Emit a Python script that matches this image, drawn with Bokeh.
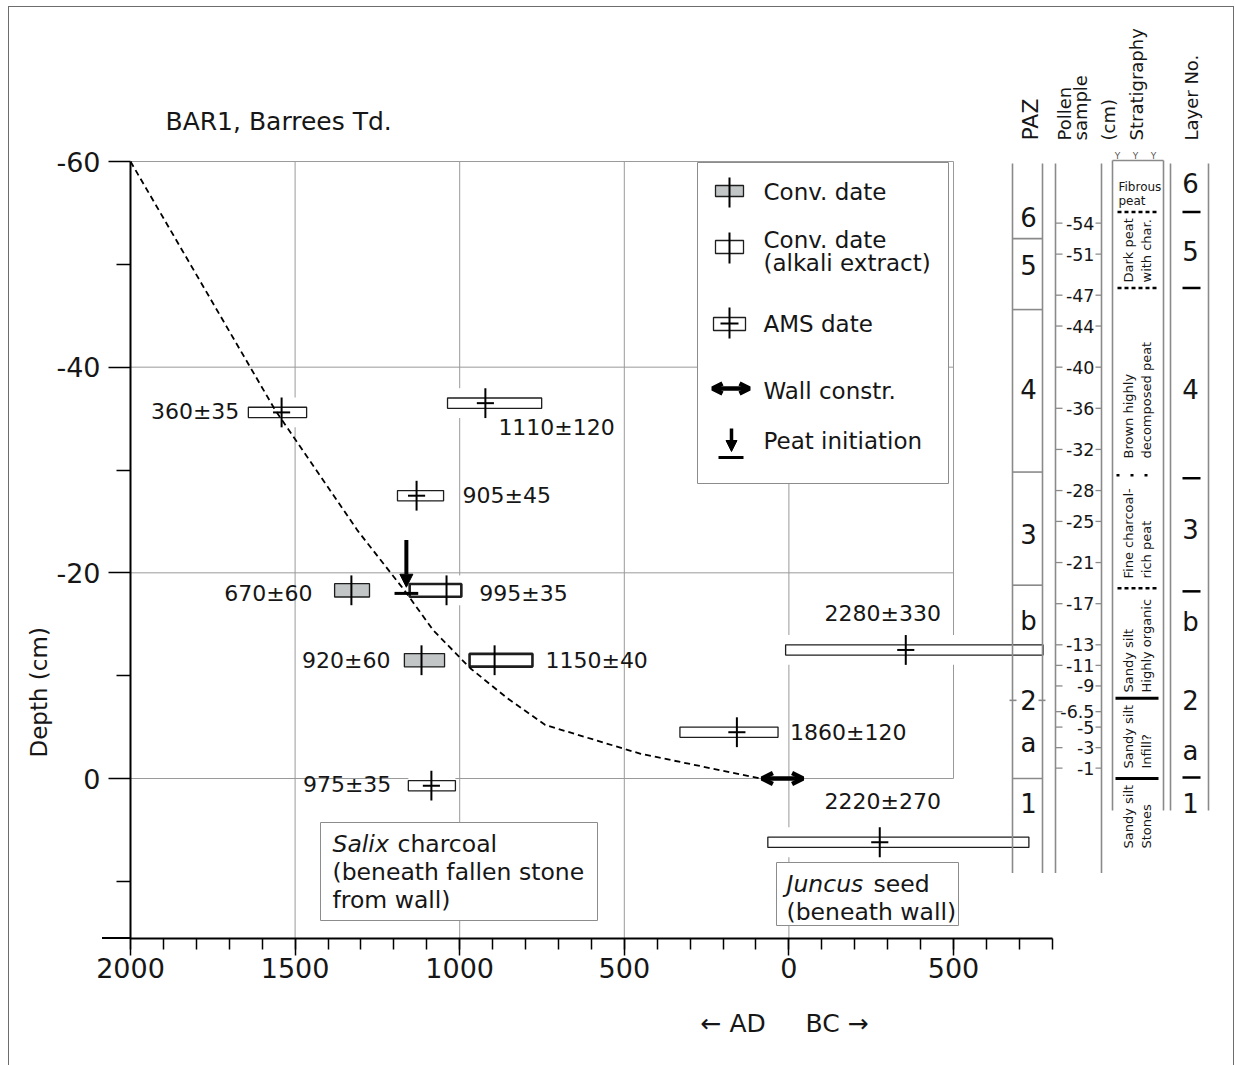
import numpy as np
from bokeh.plotting import figure
from bokeh.models import (Range1d, LinearAxis, FixedTicker, CustomJSTickFormatter,
                          Arrow, NormalHead, OpenHead, Title)
from bokeh.core.properties import value
from bokeh.embed import file_html
from bokeh.resources import INLINE

FONT = "DejaVu Sans"
INK = "#161616"
GRID = "#9a9a9a"
FRAMEC = "#8c8c8c"

# ---------------- data (years: AD positive, BC negative; depth in cm) ----------------
DATE_LABELS = ["360±35", "1110±120", "905±45", "670±60", "995±35", "920±60",
               "1150±40", "2280±330", "1860±120", "975±35", "2220±270"]
DATE_TYPES = ["ams", "ams", "ams", "conv", "alkali", "conv",
              "alkali", "ams", "ams", "ams", "ams"]
DATE_DEPTH = [-35.6, -36.5, -27.5, -18.3, -18.3, -11.5, -11.5, -12.5, -4.5, 0.7, 6.2]
CAL_START = [1642, 1037, 1189, 1380, 1152, 1168, 970, 10, 331, 1156, 64]
CAL_END = [1465, 751, 1049, 1274, 995, 1046, 779, -772, 33, 1013, -729]
CAL_MID = [1541, 922, 1131, 1329, 1040, 1116, 894, -355, 158, 1086, -276]

MODEL_YEAR = [2000, 1560, 1310, 1168, 1080, 967, 855, 740, 450, 86]
MODEL_DEPTH = [-60, -35.8, -24.1, -18.3, -14.4, -10.7, -7.8, -5.2, -2.4, 0]

WALL_FROM, WALL_TO, WALL_DEPTH = 82, -43, 0.0
PEAT_YEAR, PEAT_DEPTH = 1162, -18.0

X_MAJOR = [2000, 1500, 1000, 500, 0, -500]
X_TICK_LABELS = ["2000", "1500", "1000", "500", "0", "500"]
X_MINOR = list(range(-800, 2001, 100))
Y_MAJOR = [-60, -40, -20, 0]
Y_TICK_LABELS = ["-60", "-40", "-20", "0"]
Y_MINOR = [-50, -30, -10, 10]

PAZ_BOUNDS = [-52.5, -45.6, -29.8, -18.8, 0.0]
PAZ_LABELS = ["6", "5", "4", "3", "b", "2", "a", "1"]
PAZ_LABEL_DEPTH = [-54.6, -49.9, -37.9, -23.8, -15.3, -7.6, -3.5, 2.4]

POLLEN_DEPTH = [-54, -51, -47, -44, -40, -36, -32, -28, -25, -21, -17, -13, -11, -9, -6.5, -5, -3, -1]
POLLEN_LABELS = ["-54", "-51", "-47", "-44", "-40", "-36", "-32", "-28", "-25", "-21",
                 "-17", "-13", "-11", "-9", "-6.5", "-5", "-3", "-1"]

STRAT_BOUNDS = [-55.1, -47.7, -29.5, -18.5, -7.8, 0.0]
STRAT_STYLE = ["dashed", "dashed", "dotted", "dashed", "solid", "solid"]
STRAT_UNITS = [("Dark peat", "with char."), ("Brown highly", "decomposed peat"),
               ("Fine charcoal-", "rich peat"), ("Sandy silt", "Highly organic"),
               ("Sandy silt", "Infill?"), ("Sandy silt", "Stones")]

LAYER_BOUNDS = [-55.1, -47.7, -29.2, -18.2, -0.1]
LAYER_LABELS = ["6", "5", "4", "3", "b", "2", "a", "1"]
LAYER_LABEL_DEPTH = [-57.9, -51.3, -37.9, -24.3, -15.2, -7.6, -2.7, 2.4]

# label placement for each date (side, x offset px, y offset px)
LABEL_LAYOUT = [("left", -9, 0), ("below", 13, 25), ("right", 19, 1), ("left", -22, 4),
                ("right", 18, 4), ("left", -14, 1), ("right", 13, 1), ("above", -23, -35),
                ("right", 12, 1), ("left", -17, 0), ("above", 3, -40)]

# ---------------- geometry (page px == canvas px) ----------------
W, H = 1235, 1065
FL, FR, FT, FB = 130, 1235, 0, 938
PX_YR = 823 / 2500.0
PX_CM = 617 / 60.0
x_end = 2000 - (FR - FL) / PX_YR
y_top = (FT - 778) / PX_CM
y_bot = (FB - 778) / PX_CM

p = figure(width=W, height=H, output_backend="svg", toolbar_location=None,
           x_range=Range1d(2000, x_end), y_range=Range1d(y_bot, y_top),
           x_axis_type=None, y_axis_type=None,
           min_border_left=FL, min_border_right=0, min_border_top=0,
           min_border_bottom=H - FB)
p.extra_x_ranges = {"px": Range1d(FL, FR)}
p.extra_y_ranges = {"px": Range1d(FB, FT)}
p.outline_line_color = None
p.background_fill_alpha = 0
p.border_fill_alpha = 0
# thin page border and the short stub of the x axis left of the y axis (outside the frame)
p.styles = {
    "background": (
        "linear-gradient(#6d6d6d,#6d6d6d) 8px 6px / 1px 1200px no-repeat,"
        "linear-gradient(#6d6d6d,#6d6d6d) 8px 6px / 1226px 1px no-repeat,"
        "linear-gradient(#6d6d6d,#6d6d6d) 1233px 6px / 1px 1200px no-repeat,"
        "linear-gradient(#000,#000) 102px 937px / 29px 2px no-repeat"),
}

PX = dict(x_range_name="px", y_range_name="px")


def txt(xs, ys, texts, size, align="left", baseline="middle", angle=0.0, style="normal",
        color=INK):
    p.text(x=list(xs), y=list(ys), text=list(texts), angle=angle,
           text_font=value(FONT), text_font_size=value(f"{size}px"),
           text_font_style=style, text_align=align, text_baseline=baseline,
           text_color=color, **PX)


# ---------------- axes ----------------
FMT_CODE = """
    for (let i = 0; i < tv.length; i++) { if (Math.abs(tv[i] - tick) < 1e-6) return tl[i]; }
    return '';"""
xaxis = LinearAxis(ticker=FixedTicker(ticks=X_MAJOR, minor_ticks=X_MINOR),
                   formatter=CustomJSTickFormatter(args=dict(tv=X_MAJOR, tl=X_TICK_LABELS),
                                                   code=FMT_CODE),
                   bounds=(-800, 2000))
yaxis = LinearAxis(ticker=FixedTicker(ticks=Y_MAJOR, minor_ticks=Y_MINOR),
                   formatter=CustomJSTickFormatter(args=dict(tv=Y_MAJOR, tl=Y_TICK_LABELS),
                                                   code=FMT_CODE),
                   bounds=(-60, y_bot))
for ax, tout, mout, stand in ((xaxis, 17, 11, 2), (yaxis, 22, 14, 8)):
    ax.axis_line_width = 2
    ax.axis_line_color = "black"
    ax.major_tick_in = 0
    ax.major_tick_out = tout
    ax.minor_tick_in = 0
    ax.minor_tick_out = mout
    ax.major_tick_line_width = 1.5
    ax.minor_tick_line_width = 1.5
    ax.major_tick_line_color = "black"
    ax.minor_tick_line_color = "black"
    ax.major_label_text_font = FONT
    ax.major_label_text_font_size = "27px"
    ax.major_label_text_color = INK
    ax.major_label_standoff = stand
p.add_layout(xaxis, "below")
p.add_layout(yaxis, "left")
p.add_layout(Title(text="Depth (cm)", align="left", offset=181, text_font=FONT,
                   text_font_size="23px", text_font_style="normal", text_color=INK,
                   standoff=4), "left")
p.add_layout(Title(text="← AD\u00a0\u00a0\u00a0\u00a0\u00a0BC →", align="left", offset=570,
                   text_font=FONT, text_font_size="25px", text_font_style="normal",
                   text_color=INK, standoff=53), "below")

# ---------------- grid ----------------
full = [g for g in X_MAJOR if -1 < g < 2000]
p.segment(x0=full, x1=full, y0=[-60] * len(full), y1=[y_bot] * len(full),
          line_color=GRID, line_width=1)
p.segment(x0=[-500], x1=[-500], y0=[-60], y1=[0], line_color=GRID, line_width=1)
p.segment(x0=[2000] * 4, x1=[-500] * 4, y0=Y_MAJOR, y1=Y_MAJOR, line_color=GRID, line_width=1)

# ---------------- annotation boxes ----------------
p.quad(left=[320, 776], right=[597, 958], top=[822, 862], bottom=[920, 925],
       fill_color="white", line_color=FRAMEC, line_width=1, **PX)
txt([332], [843], ["Salix"], 23.5, style="italic")
txt([397], [843], ["charcoal"], 23.5)
txt([332, 332], [871, 899], ["(beneath fallen stone", "from wall)"], 23.5)
txt([786], [883], ["Juncus"], 23.5, style="italic")
txt([873], [883], ["seed"], 23.5)
txt([786], [911], ["(beneath wall)"], 23.5)

# ---------------- dates ----------------
CROSS = 1.45
BAR = 26
HALF = {"ams": 0.5, "conv": 0.65, "alkali": 0.62}
n = len(DATE_LABELS)
p.quad(left=CAL_START, right=CAL_END, top=[d - CROSS for d in DATE_DEPTH],
       bottom=[d + CROSS for d in DATE_DEPTH], fill_color="white", line_color=None)
for kind, fill, lw in (("ams", "white", 1.3), ("conv", "#c2c6c6", 1.3), ("alkali", "white", 2.6)):
    idx = [i for i in range(n) if DATE_TYPES[i] == kind]
    p.quad(left=[CAL_START[i] for i in idx], right=[CAL_END[i] for i in idx],
           top=[DATE_DEPTH[i] - HALF[kind] for i in idx],
           bottom=[DATE_DEPTH[i] + HALF[kind] for i in idx],
           fill_color=fill, line_color="#1e1e1e", line_width=lw)

p.line(MODEL_YEAR, MODEL_DEPTH, line_dash="6 4", line_width=1.8, line_color="black")

p.segment(x0=CAL_MID, x1=CAL_MID, y0=[d - CROSS for d in DATE_DEPTH],
          y1=[d + CROSS for d in DATE_DEPTH], line_color="black", line_width=2)
ams = [i for i in range(n) if DATE_TYPES[i] == "ams"]
p.segment(x0=[CAL_MID[i] + BAR for i in ams], x1=[CAL_MID[i] - BAR for i in ams],
          y0=[DATE_DEPTH[i] for i in ams], y1=[DATE_DEPTH[i] for i in ams],
          line_color="black", line_width=2)

groups = {"right": [], "left": [], "center": []}
for i, (side, dx, dy) in enumerate(LABEL_LAYOUT):
    if side == "left":
        groups["right"].append((CAL_START[i], DATE_DEPTH[i], DATE_LABELS[i], dx, dy))
    elif side == "right":
        groups["left"].append((CAL_END[i], DATE_DEPTH[i], DATE_LABELS[i], dx, dy))
    elif side == "below":
        groups["left"].append((CAL_MID[i], DATE_DEPTH[i], DATE_LABELS[i], dx, dy))
    else:
        groups["center"].append((CAL_MID[i], DATE_DEPTH[i], DATE_LABELS[i], dx, dy))
for al, items in groups.items():
    if items:
        p.text(x=[t[0] for t in items], y=[t[1] for t in items], text=[t[2] for t in items],
               x_offset=[t[3] for t in items], y_offset=[t[4] - 1 for t in items],
               text_align=al, text_baseline="middle", text_font=value(FONT),
               text_font_size=value("22px"), text_color=INK)

# wall construction and peat initiation
p.add_layout(Arrow(start=OpenHead(size=11, line_width=4.5), end=OpenHead(size=11, line_width=4.5),
                   x_start=WALL_FROM, x_end=WALL_TO, y_start=WALL_DEPTH, y_end=WALL_DEPTH,
                   line_width=4.5, line_color="black"))
p.add_layout(Arrow(start=None, end=NormalHead(size=13, fill_color="black", line_color="black"),
                   x_start=PEAT_YEAR, x_end=PEAT_YEAR, y_start=PEAT_DEPTH - 5.2,
                   y_end=PEAT_DEPTH - 0.6, line_width=4, line_color="black"))
p.segment(x0=[PEAT_YEAR + 36], x1=[PEAT_YEAR - 36], y0=[PEAT_DEPTH], y1=[PEAT_DEPTH],
          line_color="black", line_width=3)

# ---------------- legend ----------------
p.quad(left=[697], right=[948], top=[162], bottom=[483], fill_color="white",
       line_color=FRAMEC, line_width=1, **PX)
p.quad(left=[715, 715, 713], right=[743, 743, 745], top=[185, 240, 317], bottom=[196, 253, 330],
       fill_color=["#c2c6c6", "white", "white"], line_color="#1e1e1e", line_width=1.3, **PX)
p.segment(x0=[729, 729, 729, 720], x1=[729, 729, 729, 738], y0=[177, 232, 307, 323],
          y1=[207, 263, 338, 323], line_color="black", line_width=2, **PX)
p.add_layout(Arrow(start=OpenHead(size=10, line_width=4.5), end=OpenHead(size=10, line_width=4.5),
                   x_start=712, x_end=749, y_start=388, y_end=388, line_width=4.5,
                   line_color="black", **PX))
p.add_layout(Arrow(start=None, end=NormalHead(size=11, fill_color="black", line_color="black"),
                   x_start=731, x_end=731, y_start=428, y_end=451, line_width=3.5,
                   line_color="black", **PX))
p.segment(x0=[718], x1=[743], y0=[457], y1=[457], line_color="black", line_width=3, **PX)
txt([763] * 6, [191, 239, 262, 323, 390, 440],
    ["Conv. date", "Conv. date", "(alkali extract)", "AMS date", "Wall constr.", "Peat initiation"], 23)

# ---------------- title ----------------
txt([165], [121], ["BAR1, Barrees Td."], 25)

# ---------------- right-hand columns ----------------
COL = "#8a8a8a"
col_x = [1012, 1042, 1055, 1101, 1112, 1163, 1170, 1208]
col_top = [-59.8, -59.8, -59.8, -59.8, -60.1, -60.1, -59.8, -59.8]
col_bot = [9.2, 9.2, 9.2, 9.2, 3.1, 3.1, 3.1, 3.1]
p.segment(x0=col_x, x1=col_x, y0=col_top, y1=col_bot, line_color=COL, line_width=1.6,
          x_range_name="px")
p.segment(x0=[1112], x1=[1163], y0=[-60.1], y1=[-60.1], line_color=COL, line_width=1.6,
          x_range_name="px")

# PAZ column
p.segment(x0=[1012] * len(PAZ_BOUNDS), x1=[1042] * len(PAZ_BOUNDS), y0=PAZ_BOUNDS, y1=PAZ_BOUNDS,
          line_color=COL, line_width=1.6, x_range_name="px")
p.segment(x0=[1009, 1038], x1=[1016, 1045], y0=[-7.6, -7.6], y1=[-7.6, -7.6],
          line_color=COL, line_width=1.6, x_range_name="px")
p.text(x=[1028] * len(PAZ_LABELS), y=PAZ_LABEL_DEPTH, text=PAZ_LABELS, text_align="center",
       text_baseline="middle", text_font=value(FONT), text_font_size=value("26px"),
       text_color=INK, x_range_name="px")

# pollen samples
m = len(POLLEN_DEPTH)
p.segment(x0=[1055] * m, x1=[1062] * m, y0=POLLEN_DEPTH, y1=POLLEN_DEPTH, line_color=COL,
          line_width=1.3, x_range_name="px")
p.segment(x0=[1095] * m, x1=[1101] * m, y0=POLLEN_DEPTH, y1=POLLEN_DEPTH, line_color=COL,
          line_width=1.3, x_range_name="px")
p.text(x=[1094] * m, y=POLLEN_DEPTH, text=POLLEN_LABELS, text_align="right",
       text_baseline="middle", text_font=value(FONT), text_font_size=value("17.5px"),
       text_color=INK, x_range_name="px")

# stratigraphy
for d, st in zip(STRAT_BOUNDS, STRAT_STYLE):
    if st == "solid":
        p.segment(x0=[1115], x1=[1158], y0=[d], y1=[d], line_color="black", line_width=3,
                  x_range_name="px")
    elif st == "dashed":
        p.segment(x0=[1117], x1=[1158], y0=[d], y1=[d], line_color="black", line_width=2.5,
                  line_dash="4 3", x_range_name="px")
    else:
        p.segment(x0=[1116], x1=[1158], y0=[d], y1=[d], line_color="black", line_width=2.5,
                  line_dash="3 11", x_range_name="px")
txt([1117, 1135, 1153], [155, 155, 155], ["Y", "Y", "Y"], 9, align="center", color="#555")
txt([1118, 1118], [186, 200], ["Fibrous", "peat"], 12)
unit_bottom = [282, 458, 578, 692, 768, 848]
for (l1, l2), yb in zip(STRAT_UNITS, unit_bottom):
    txt([1128, 1146], [yb, yb], [l1, l2], 13, angle=np.pi / 2)

# layer numbers
k = len(LAYER_BOUNDS)
p.segment(x0=[1182] * k, x1=[1200] * k, y0=LAYER_BOUNDS, y1=LAYER_BOUNDS, line_color="black",
          line_width=2.5, x_range_name="px")
p.text(x=[1190] * len(LAYER_LABELS), y=LAYER_LABEL_DEPTH, text=LAYER_LABELS, text_align="center",
       text_baseline="middle", text_font=value(FONT), text_font_size=value("26px"),
       text_color=INK, x_range_name="px")

# column headers (rotated)
txt([1030], [140], ["PAZ"], 22, angle=np.pi / 2)
txt([1064, 1080, 1108], [140, 140, 140], ["Pollen", "sample", "(cm)"], 18, angle=np.pi / 2)
txt([1136], [140], ["Stratigraphy"], 18, angle=np.pi / 2)
txt([1191], [140], ["Layer No."], 18, angle=np.pi / 2)

open("out.html", "w").write(file_html(p, INLINE))
